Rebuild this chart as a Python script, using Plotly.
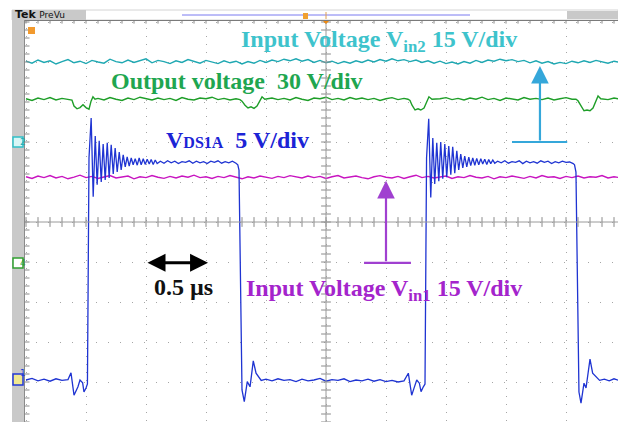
import plotly.graph_objects as go

W, H = 618, 422

# ---- waveform data (time in us, amplitude in screen divisions, centre = 0) ----
SAMPLE_STEP_US = 0.05

VIN2 = [
    4.02, 3.97, 4.05, 3.99, 4.03, 3.95, 4.01, 4.06, 3.98, 4.02,
    3.96, 4.04, 4.00, 3.97, 4.07, 4.01, 3.98, 4.05, 3.99, 4.03,
    4.08, 3.98, 4.04, 4.01, 3.96, 4.03, 3.99, 4.06, 4.02, 3.97,
    4.04, 4.00, 3.96, 4.03, 3.98, 4.02, 3.95, 4.01, 3.97, 4.04,
    3.99, 4.05, 4.01, 4.07, 4.03, 4.08, 4.02, 4.06, 3.99, 4.04,
    3.98, 4.02, 3.96, 4.01, 3.97, 4.03, 3.99, 4.05, 4.00, 4.06,
    4.02, 4.08, 4.03, 4.06, 4.01, 4.05, 3.99, 4.03, 3.97, 4.02,
    3.96, 4.00, 3.95, 4.01, 3.97, 4.04, 3.99, 4.05, 4.02, 4.07,
    4.03, 4.06, 4.01, 4.04, 3.98, 4.03, 3.97, 4.01, 3.95, 3.99,
    3.96, 4.02, 3.98, 4.03, 3.99, 4.04, 4.00, 3.97, 4.02, 3.99,
]

VIN1 = [
    1.13, 1.09, 1.15, 1.11, 1.16, 1.10, 1.14, 1.08, 1.12, 1.17,
    1.11, 1.14, 1.09, 1.13, 1.16, 1.10, 1.12, 1.15, 1.08, 1.13,
    1.11, 1.16, 1.12, 1.09, 1.14, 1.10, 1.15, 1.12, 1.17, 1.11,
    1.13, 1.09, 1.14, 1.11, 1.16, 1.12, 1.08, 1.13, 1.10, 1.15,
    1.12, 1.09, 1.14, 1.11, 1.16, 1.13, 1.10, 1.15, 1.11, 1.14,
    1.09, 1.13, 1.16, 1.10, 1.12, 1.15, 1.11, 1.08, 1.13, 1.16,
    1.12, 1.10, 1.14, 1.09, 1.13, 1.17, 1.11, 1.14, 1.10, 1.12,
    1.15, 1.09, 1.13, 1.11, 1.16, 1.12, 1.10, 1.14, 1.08, 1.13,
    1.11, 1.15, 1.12, 1.09, 1.14, 1.10, 1.16, 1.12, 1.13, 1.09,
    1.14, 1.11, 1.15, 1.10, 1.13, 1.12, 1.16, 1.10, 1.13, 1.11,
]

VOUT_T = [
    0.00, 0.05, 0.10, 0.15, 0.20, 0.25, 0.30, 0.35,
    0.383, 0.400, 0.425, 0.450, 0.475, 0.500, 0.525, 0.542, 0.558, 0.575,
    0.60, 0.65, 0.70, 0.75, 0.80, 0.85, 0.90, 0.95, 1.00, 1.05, 1.10, 1.15,
    1.20, 1.25, 1.30, 1.35, 1.40, 1.45, 1.50, 1.55, 1.60, 1.65, 1.70, 1.75,
    1.783, 1.800, 1.825, 1.850, 1.875, 1.900, 1.925, 1.950, 1.967, 1.990,
    2.05, 2.10, 2.15, 2.20, 2.25, 2.30, 2.35, 2.40, 2.45, 2.50, 2.55, 2.60,
    2.65, 2.70, 2.75, 2.80, 2.85, 2.90, 2.95, 3.00, 3.05, 3.10, 3.15,
    3.183, 3.200, 3.217, 3.242, 3.267, 3.290, 3.317, 3.342, 3.358, 3.383,
    3.45, 3.50, 3.55, 3.60, 3.65, 3.70, 3.75, 3.80, 3.85, 3.90, 3.95, 4.00,
    4.05, 4.10, 4.15, 4.20, 4.25, 4.30, 4.35, 4.40, 4.45, 4.50, 4.55,
    4.583, 4.600, 4.625, 4.650, 4.675, 4.700, 4.725, 4.750, 4.767, 4.790,
    4.85, 4.90, 4.95,
]
VOUT_V = [
    3.08, 3.04, 3.10, 3.06, 3.11, 3.05, 3.09, 3.07,
    3.05, 2.90, 2.83, 2.86, 2.93, 2.86, 2.82, 3.02, 3.13, 3.07,
    3.09, 3.05, 3.11, 3.07, 3.04, 3.10, 3.06, 3.12, 3.08, 3.05, 3.10, 3.06,
    3.09, 3.04, 3.11, 3.07, 3.05, 3.10, 3.08, 3.12, 3.06, 3.09, 3.05, 3.08,
    3.06, 3.02, 2.92, 2.85, 2.88, 2.84, 2.90, 3.05, 3.13, 3.07,
    3.10, 3.06, 3.09, 3.05, 3.11, 3.07, 3.04, 3.10, 3.08, 3.12, 3.06, 3.09,
    3.05, 3.11, 3.07, 3.10, 3.06, 3.09, 3.04, 3.08, 3.11, 3.06, 3.09,
    3.07, 3.04, 2.92, 2.80, 2.83, 2.80, 2.85, 3.05, 3.13, 3.07,
    3.08, 3.11, 3.06, 3.09, 3.05, 3.10, 3.07, 3.12, 3.06, 3.09, 3.04, 3.10,
    3.08, 3.05, 3.11, 3.07, 3.09, 3.06, 3.10, 3.05, 3.08, 3.11, 3.07,
    3.07, 3.03, 2.90, 2.78, 2.80, 2.78, 2.85, 3.05, 3.15, 3.08,
    3.06, 3.10, 3.07,
]

VDS_T = [
    # off state, first period
    0.00, 0.05, 0.10, 0.15, 0.20, 0.25, 0.30, 0.35,
    0.375, 0.400, 0.433, 0.450, 0.472, 0.483, 0.500, 0.512,
    # turn-off edge and ringing
    0.525, 0.543, 0.560, 0.577, 0.593, 0.610, 0.627, 0.643, 0.660, 0.677,
    0.693, 0.710, 0.727, 0.743, 0.760, 0.777, 0.793, 0.810, 0.827, 0.843,
    0.860, 0.877, 0.893, 0.910, 0.927, 0.943, 0.960, 0.977, 0.993, 1.010,
    1.027, 1.043, 1.060, 1.077, 1.093,
    1.12, 1.15, 1.18, 1.21, 1.24, 1.27, 1.30, 1.33, 1.36, 1.39, 1.42, 1.45,
    1.48, 1.51, 1.54, 1.57, 1.60, 1.63, 1.66, 1.69, 1.72, 1.75, 1.765,
    # turn-on edge
    1.775, 1.800, 1.819, 1.844, 1.867, 1.894, 1.917, 1.942, 1.960,
    2.00, 2.05, 2.10, 2.15, 2.20, 2.25, 2.30, 2.35, 2.40, 2.45, 2.50, 2.55,
    2.60, 2.65, 2.70, 2.75, 2.80, 2.85, 2.90, 2.95, 3.00, 3.05, 3.10, 3.15,
    3.186, 3.214, 3.233, 3.256, 3.278, 3.292, 3.311, 3.325,
    # second period
    3.338, 3.356, 3.373, 3.390, 3.406, 3.423, 3.440, 3.456, 3.473, 3.490,
    3.506, 3.523, 3.540, 3.556, 3.573, 3.590, 3.606, 3.623, 3.640, 3.656,
    3.673, 3.690, 3.706, 3.723, 3.740, 3.756, 3.773, 3.790, 3.806, 3.823,
    3.840, 3.856, 3.873, 3.890, 3.906,
    3.93, 3.96, 3.99, 4.02, 4.05, 4.08, 4.11, 4.14, 4.17, 4.20, 4.23, 4.26,
    4.29, 4.32, 4.35, 4.38, 4.41, 4.44, 4.47, 4.50, 4.53, 4.56, 4.571,
    4.583, 4.608, 4.625, 4.650, 4.667, 4.700, 4.722, 4.756, 4.780,
    4.82, 4.86, 4.90, 4.94,
]
VDS_V = [
    -3.95, -3.91, -3.97, -3.93, -3.98, -3.92, -3.96, -3.94,
    -3.77, -4.33, -4.12, -3.95, -4.02, -4.25, -4.15, -4.05,
    1.60, 2.60, 0.63, 2.15, 0.93, 2.03, 1.00, 1.95, 1.05, 1.98,
    1.10, 1.93, 1.20, 1.85, 1.25, 1.75, 1.30, 1.68, 1.38, 1.63,
    1.40, 1.60, 1.43, 1.58, 1.42, 1.60, 1.43, 1.58, 1.44, 1.57,
    1.45, 1.56, 1.44, 1.55, 1.46,
    1.52, 1.47, 1.53, 1.48, 1.52, 1.46, 1.51, 1.49, 1.53, 1.47, 1.52, 1.48,
    1.51, 1.46, 1.52, 1.49, 1.53, 1.47, 1.51, 1.48, 1.52, 1.47, 1.43,
    1.30, -4.20, -4.49, -3.99, -4.12, -3.47, -3.78, -3.90, -3.96,
    -3.93, -3.97, -3.92, -3.96, -3.94, -3.99, -3.93, -3.97, -3.95, -3.91, -3.98, -3.94,
    -3.96, -3.92, -3.99, -3.95, -3.97, -3.93, -3.98, -3.94, -3.99, -3.96, -4.00, -3.97,
    -3.78, -4.33, -4.16, -3.95, -4.03, -4.24, -4.12, -4.05,
    1.60, 2.58, 0.61, 2.10, 0.95, 1.98, 1.02, 2.00, 1.08, 1.95,
    1.12, 1.90, 1.18, 1.88, 1.22, 1.78, 1.30, 1.70, 1.35, 1.65,
    1.38, 1.62, 1.41, 1.60, 1.42, 1.59, 1.43, 1.58, 1.45, 1.57,
    1.44, 1.56, 1.46, 1.55, 1.47,
    1.52, 1.48, 1.53, 1.47, 1.51, 1.49, 1.53, 1.46, 1.52, 1.48, 1.51, 1.47,
    1.53, 1.49, 1.52, 1.46, 1.51, 1.48, 1.52, 1.49, 1.50, 1.46, 1.43,
    1.25, -4.25, -4.53, -4.03, -4.15, -3.43, -3.78, -3.88, -3.96,
    -3.93, -3.97, -3.92, -3.96,
]

t_vin2 = [i * SAMPLE_STEP_US for i in range(len(VIN2))]
t_vin1 = [i * SAMPLE_STEP_US for i in range(len(VIN1))]

SERIF = "Liberation Serif, Times New Roman, serif"


def px(x):
    return x / W


def py(y):
    return 1 - y / H


fig = go.Figure()

fig.add_trace(go.Scatter(x=t_vin2, y=VIN2, mode="lines",
                         line=dict(color="#1FA8B2", width=1.4)))
fig.add_trace(go.Scatter(x=VOUT_T, y=VOUT_V, mode="lines",
                         line=dict(color="#1E9E28", width=1.4)))
fig.add_trace(go.Scatter(x=t_vin1, y=VIN1, mode="lines",
                         line=dict(color="#C815C0", width=1.4)))
fig.add_trace(go.Scatter(x=VDS_T, y=VDS_V, mode="lines",
                         line=dict(color="#1F34D2", width=1.3)))

# graticule tick marks on the centre cross and borders
minor_x = [i * 0.1 for i in range(0, 50)]
minor_y = [-5 + i * 0.2 for i in range(0, 51)]
tick = dict(color="#8a8a8a", line=dict(color="#8a8a8a", width=1))
fig.add_trace(go.Scatter(x=minor_x, y=[0] * len(minor_x), mode="markers",
                         marker=dict(symbol="line-ns", size=7, **tick)))
fig.add_trace(go.Scatter(x=[2.5] * len(minor_y), y=minor_y, mode="markers",
                         marker=dict(symbol="line-ew", size=7, **tick)))
fig.add_trace(go.Scatter(x=minor_x, y=[5.03] * len(minor_x), mode="markers",
                         marker=dict(symbol="line-ns", size=4, **tick)))
fig.add_trace(go.Scatter(x=[0.0] * len(minor_y), y=minor_y, mode="markers",
                         marker=dict(symbol="line-ew", size=5, **tick)))

shapes = [
    # centre cross
    dict(type="line", xref="x", yref="y", x0=2.5, x1=2.5, y0=-5, y1=5.05,
         line=dict(color="#9a9a9a", width=1)),
    dict(type="line", xref="x", yref="y", x0=-0.02, x1=5, y0=0, y1=0,
         line=dict(color="#9a9a9a", width=1)),
    # header strip
    dict(type="rect", xref="paper", yref="paper", x0=px(12), x1=px(618),
         y0=py(20), y1=py(10), fillcolor="white", line=dict(color="#d4d4d4", width=1)),
    dict(type="rect", xref="paper", yref="paper", x0=px(12), x1=px(86),
         y0=py(20), y1=py(10), fillcolor="#c9c9c9", line_width=0),
    dict(type="rect", xref="paper", yref="paper", x0=px(567), x1=px(618),
         y0=py(19), y1=py(11), fillcolor="#c9c9c9", line_width=0),
    dict(type="line", xref="paper", yref="paper", x0=px(182), x1=px(470),
         y0=py(15), y1=py(15), line=dict(color="#7a7af0", width=1)),
    dict(type="rect", xref="paper", yref="paper", x0=px(303), x1=px(308),
         y0=py(19), y1=py(13), fillcolor="#F0A030", line_width=0),
    dict(type="path", xref="paper", yref="paper",
         path=f"M {px(322)} {py(20)} L {px(330)} {py(20)} L {px(326)} {py(24)} Z",
         fillcolor="#F08A10", line_width=0),
    dict(type="line", xref="paper", yref="paper", x0=px(326), x1=px(326),
         y0=py(19), y1=py(12), line=dict(color="#E0A050", width=1)),
    dict(type="line", xref="paper", yref="paper", x0=px(24), x1=px(618),
         y0=py(20.5), y1=py(20.5), line=dict(color="#7a7a7a", width=1)),
    # left bar
    dict(type="rect", xref="paper", yref="paper", x0=px(12), x1=px(24),
         y0=0, y1=py(20), fillcolor="#c9c9c9", line_width=0),
    dict(type="line", xref="paper", yref="paper", x0=px(24.5), x1=px(24.5),
         y0=0, y1=py(20), line=dict(color="#8a8a8a", width=1)),
    # channel markers
    dict(type="rect", xref="paper", yref="paper", x0=px(13), x1=px(23),
         y0=py(147), y1=py(137), fillcolor="#d8f6f6", line=dict(color="#30C0C8", width=1.5)),
    dict(type="rect", xref="paper", yref="paper", x0=px(13), x1=px(23),
         y0=py(268), y1=py(258), fillcolor="#ffffff", line=dict(color="#30A030", width=1.5)),
    dict(type="rect", xref="paper", yref="paper", x0=px(13), x1=px(23),
         y0=py(385), y1=py(374), fillcolor="#f0e890", line=dict(color="#2238D8", width=1.5)),
    dict(type="rect", xref="paper", yref="paper", x0=px(28), x1=px(35),
         y0=py(34), y1=py(27), fillcolor="#F29A2E", line_width=0),
    # arrow base bars
    dict(type="line", xref="x", yref="y", x0=4.05, x1=4.51, y0=2.0, y1=2.0,
         line=dict(color="#35A7DA", width=2.2)),
    dict(type="line", xref="x", yref="y", x0=2.817, x1=3.208, y0=-1.02, y1=-1.02,
         line=dict(color="#A040D0", width=2.2)),
]

label_font = dict(family=SERIF, size=24, weight="bold")
annotations = [
    dict(x=1.775, y=4.52, xref="x", yref="y", xanchor="left", yanchor="middle",
         showarrow=False, text="Input Voltage V<sub>in2</sub> 15 V/div",
         font=dict(label_font, color="#3EC3CC")),
    dict(x=0.69, y=3.52, xref="x", yref="y", xanchor="left", yanchor="middle",
         showarrow=False, text="Output voltage  30 V/div",
         font=dict(label_font, color="#1FA650")),
    dict(x=1.15, y=2.05, xref="x", yref="y", xanchor="left", yanchor="middle",
         showarrow=False,
         text="V<span style='font-size:16px'>DS1A</span>  5 V/div",
         font=dict(label_font, color="#1C24D6")),
    dict(x=1.05, y=-1.63, xref="x", yref="y", xanchor="left", yanchor="middle",
         showarrow=False, text="0.5 µs", font=dict(label_font, color="#111111")),
    dict(x=1.815, y=-1.70, xref="x", yref="y", xanchor="left", yanchor="middle",
         showarrow=False, text="Input Voltage V<sub>in1</sub> 15 V/div",
         font=dict(label_font, color="#A424CC")),
    # arrows
    dict(x=4.283, y=3.9, ax=4.283, ay=2.0, xref="x", yref="y", axref="x", ayref="y",
         text="", showarrow=True, arrowhead=2, arrowsize=1.6, arrowwidth=2.2,
         arrowcolor="#35A7DA"),
    dict(x=3.0, y=1.03, ax=3.0, ay=-1.02, xref="x", yref="y", axref="x", ayref="y",
         text="", showarrow=True, arrowhead=2, arrowsize=1.6, arrowwidth=2.2,
         arrowcolor="#A040D0"),
    dict(x=1.517, y=-1.02, ax=1.0, ay=-1.02, xref="x", yref="y", axref="x", ayref="y",
         text="", showarrow=True, arrowhead=2, arrowside="end+start", arrowsize=1.2,
         arrowwidth=3, arrowcolor="#000000"),
    # header / channel marker text
    dict(x=px(13), y=py(15), xref="paper", yref="paper", xanchor="left", yanchor="middle",
         showarrow=False, text="<b>Tek</b> <span style='font-size:9px'>PreVu</span>",
         font=dict(family="DejaVu Sans", size=11, color="#111111")),
    dict(x=px(18), y=py(142), xref="paper", yref="paper", showarrow=False, text="2",
         font=dict(family="DejaVu Sans", size=9, color="#1FADB5")),
    dict(x=px(18), y=py(263), xref="paper", yref="paper", showarrow=False, text="4",
         font=dict(family="DejaVu Sans", size=9, color="#30A030")),
    dict(x=px(18), y=py(379.5), xref="paper", yref="paper", showarrow=False, text="1",
         font=dict(family="DejaVu Sans", size=9, color="#2238D8")),
    dict(x=px(31.5), y=py(30.5), xref="paper", yref="paper", showarrow=False, text="1",
         font=dict(family="DejaVu Sans", size=7, color="#ffffff")),
]

fig.update_layout(
    width=W, height=H, autosize=False,
    margin=dict(l=0, r=0, t=0, b=0),
    paper_bgcolor="white", plot_bgcolor="white",
    showlegend=False,
    shapes=shapes,
    annotations=annotations,
    xaxis=dict(domain=[px(24), 1], range=[-2 / 120, 592 / 120],
               tick0=0, dtick=0.5, showgrid=True, gridcolor="#a6a6a6",
               griddash="1px,7px", gridwidth=1, zeroline=False,
               showticklabels=False, ticks=""),
    yaxis=dict(domain=[0, py(20)], range=[-5.0, 5.05],
               tick0=0, dtick=1, showgrid=True, gridcolor="#a6a6a6",
               griddash="1px,11px", gridwidth=1, zeroline=False,
               showticklabels=False, ticks=""),
)

# the page body has a default 8px margin; drop it so the figure fills the window
fig.write_html("out.html", config={"displayModeBar": False},
               post_script="document.body.style.margin='0';")
